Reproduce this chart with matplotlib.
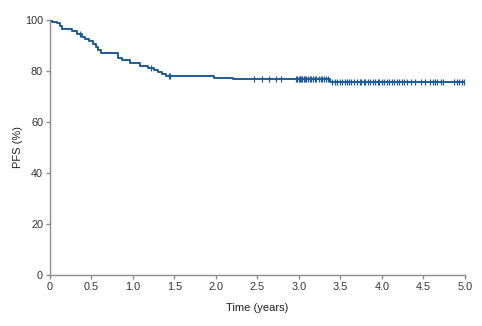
import numpy as np
import matplotlib
matplotlib.use("Agg")
import matplotlib.pyplot as plt

plt.rcParams['font.family'] = ['Liberation Sans', 'DejaVu Sans']

# Kaplan-Meier steps (years, PFS %)
event_t = [0, 0.03, 0.08, 0.12, 0.15, 0.27, 0.32, 0.38, 0.42, 0.47, 0.52, 0.55,
           0.58, 0.62, 0.82, 0.87, 0.97, 1.08, 1.18, 1.25, 1.30, 1.35, 1.40,
           1.98, 2.20, 3.37, 5.0]
surv = [100, 99.4, 98.8, 97.6, 96.4, 95.5, 94.4, 93.3, 92.5, 91.7, 90.5, 89.4,
        88.2, 86.9, 85.1, 84.2, 83.2, 82.0, 81.2, 80.4, 79.6, 78.8, 78.0,
        77.4, 76.9, 75.8, 75.8]

# censored observations (years)
censor_t = [0.36, 1.22, 1.43, 1.45, 2.46, 2.56, 2.64, 2.72, 2.78,
            2.97, 2.98, 3.00, 3.01, 3.03, 3.04, 3.06, 3.07, 3.09, 3.11, 3.13, 3.15,
            3.17, 3.19, 3.21, 3.24, 3.26, 3.28, 3.30, 3.33, 3.35,
            3.40, 3.43, 3.46, 3.49, 3.52, 3.55, 3.58, 3.60, 3.63, 3.66,
            3.70, 3.73, 3.75, 3.78, 3.80, 3.83, 3.86, 3.89, 3.92, 3.95, 3.97,
            4.00, 4.03, 4.06, 4.09, 4.12, 4.15, 4.18, 4.21, 4.24, 4.27, 4.30,
            4.35, 4.40, 4.47, 4.52, 4.58, 4.61, 4.64, 4.66, 4.71, 4.74,
            4.87, 4.90, 4.93, 4.96, 4.99]

xticks = [0, 0.5, 1.0, 1.5, 2.0, 2.5, 3.0, 3.5, 4.0, 4.5, 5.0]
xlabels = ['0', '0.5', '1.0', '1.5', '2.0', '2.5', '3.0', '3.5', '4.0', '4.5', '5.0']
yticks = [0, 20, 40, 60, 80, 100]

col = '#1d5c98'
grey = '#8c8c8c'

fig = plt.figure(figsize=(4.82, 3.26), dpi=100)
ax = fig.add_axes([0.1037, 0.1564, 0.861, 0.7823])

ax.step(event_t, surv, where='post', color=col, lw=1.4)
idx = np.searchsorted(event_t, censor_t, side='right') - 1
cy = np.array(surv)[idx]
ax.plot(censor_t, cy, linestyle='none', marker='|', ms=5, mew=0.9, color=col)

ax.set_xlim(0, 5)
ax.set_ylim(0, 100)
ax.set_xticks(xticks)
ax.set_xticklabels(xlabels)
ax.set_yticks(yticks)

for s in ['top', 'right']:
    ax.spines[s].set_visible(False)
for s in ['left', 'bottom']:
    ax.spines[s].set_color(grey)
    ax.spines[s].set_linewidth(1.0)
ax.tick_params(colors=grey, labelcolor='#333333', labelsize=7.8, length=3, width=1.0, pad=2)

ax.set_xlabel('Time (years)', fontsize=8, color='#222222', labelpad=8)
ax.set_ylabel('PFS (%)', fontsize=8, color='#222222', labelpad=1.5)

fig.savefig('out.png', dpi=100)
